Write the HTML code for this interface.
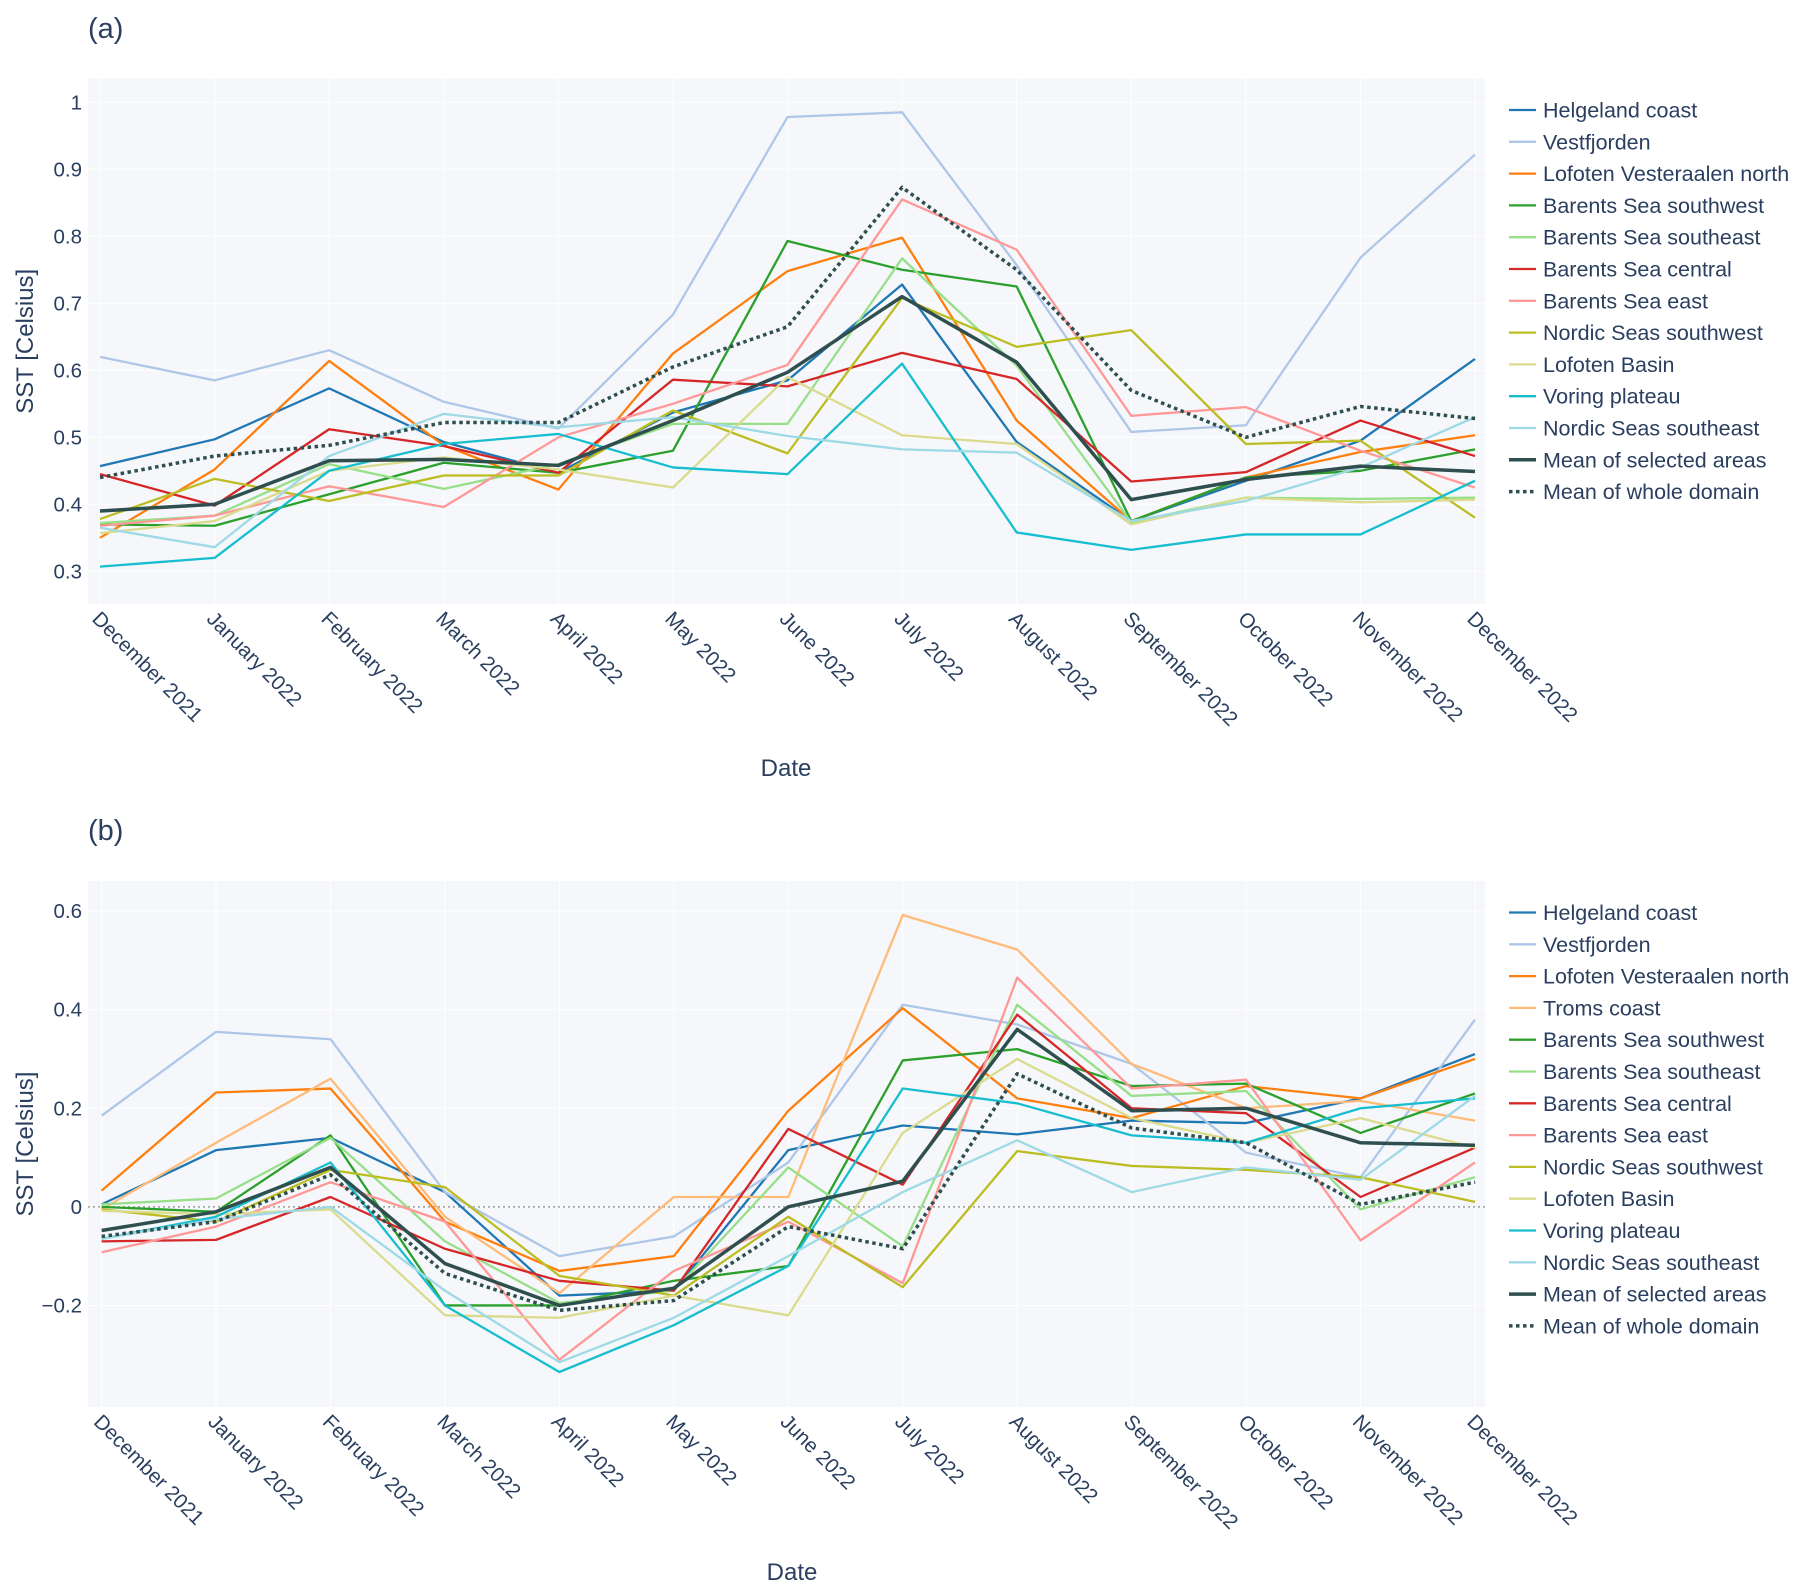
<!DOCTYPE html>
<html><head><meta charset="utf-8"><style>
body{margin:0;background:#fff;}
svg{display:block;font-family:"Liberation Sans",sans-serif;}
</style></head><body>
<svg id="c" width="1805" height="1591" viewBox="0 0 1805 1591" xmlns="http://www.w3.org/2000/svg"></svg>
<script>
const months=["December 2021","January 2022","February 2022","March 2022","April 2022","May 2022","June 2022","July 2022","August 2022","September 2022","October 2022","November 2022","December 2022"];
const namesA=["Helgeland coast","Vestfjorden","Lofoten Vesteraalen north","Barents Sea southwest","Barents Sea southeast","Barents Sea central","Barents Sea east","Nordic Seas southwest","Lofoten Basin","Voring plateau","Nordic Seas southeast","Mean of selected areas","Mean of whole domain"];
const namesB=["Helgeland coast","Vestfjorden","Lofoten Vesteraalen north","Troms coast","Barents Sea southwest","Barents Sea southeast","Barents Sea central","Barents Sea east","Nordic Seas southwest","Lofoten Basin","Voring plateau","Nordic Seas southeast","Mean of selected areas","Mean of whole domain"];
const a_helgeland=[0.457,0.497,0.573,0.493,0.447,0.537,0.585,0.728,0.493,0.375,0.435,0.495,0.617];
const a_vestfjorden=[0.62,0.585,0.63,0.553,0.513,0.683,0.978,0.985,0.757,0.508,0.518,0.768,0.922];
const a_lofotenVN=[0.35,0.452,0.614,0.488,0.422,0.625,0.748,0.798,0.525,0.375,0.44,0.478,0.503];
const a_barentsSW=[0.37,0.368,0.415,0.462,0.447,0.48,0.793,0.75,0.725,0.375,0.44,0.45,0.482];
const a_barentsSE=[0.372,0.383,0.46,0.423,0.46,0.52,0.52,0.767,0.607,0.373,0.41,0.408,0.41];
const a_barentsC=[0.445,0.398,0.512,0.487,0.447,0.586,0.576,0.626,0.587,0.434,0.448,0.525,0.472];
const a_barentsE=[0.368,0.383,0.427,0.396,0.5,0.55,0.608,0.855,0.78,0.532,0.545,0.48,0.425];
const a_nordicSW=[0.378,0.438,0.405,0.443,0.443,0.54,0.476,0.708,0.635,0.66,0.49,0.495,0.38];
const a_lofotenB=[0.357,0.375,0.45,0.47,0.452,0.425,0.59,0.503,0.49,0.37,0.41,0.403,0.407];
const a_voring=[0.307,0.32,0.45,0.49,0.505,0.455,0.445,0.61,0.358,0.332,0.355,0.355,0.435];
const a_nordicSE=[0.365,0.336,0.472,0.535,0.515,0.53,0.502,0.482,0.477,0.375,0.405,0.455,0.53];
const a_meanSel=[0.39,0.4,0.465,0.467,0.458,0.525,0.597,0.71,0.612,0.407,0.437,0.457,0.449];
const a_meanAll=[0.44,0.472,0.488,0.522,0.522,0.605,0.665,0.873,0.75,0.57,0.5,0.546,0.528];
const b_helgeland=[0.005,0.115,0.14,0.03,-0.18,-0.17,0.115,0.165,0.147,0.175,0.17,0.22,0.31];
const b_vestfjorden=[0.185,0.355,0.34,0.03,-0.1,-0.06,0.09,0.41,0.37,0.29,0.11,0.06,0.38];
const b_lofotenVN=[0.033,0.232,0.24,-0.03,-0.13,-0.1,0.195,0.403,0.22,0.18,0.245,0.22,0.3];
const b_troms=[-0.005,0.13,0.26,-0.02,-0.175,0.02,0.02,0.592,0.522,0.29,0.2,0.215,0.175];
const b_barentsSW=[0.0,-0.01,0.145,-0.2,-0.2,-0.15,-0.12,0.297,0.32,0.245,0.25,0.15,0.23];
const b_barentsSE=[0.005,0.017,0.14,-0.07,-0.195,-0.17,0.08,-0.08,0.41,0.225,0.235,-0.005,0.06];
const b_barentsC=[-0.07,-0.067,0.02,-0.085,-0.15,-0.17,0.158,0.045,0.39,0.2,0.19,0.02,0.12];
const b_barentsE=[-0.092,-0.04,0.05,-0.03,-0.31,-0.13,-0.03,-0.155,0.465,0.24,0.258,-0.068,0.09];
const b_nordicSW=[-0.005,-0.03,0.075,0.04,-0.14,-0.18,-0.02,-0.163,0.113,0.083,0.075,0.06,0.01];
const b_lofotenB=[-0.008,-0.015,-0.005,-0.22,-0.225,-0.18,-0.22,0.15,0.3,0.18,0.13,0.18,0.12];
const b_voring=[-0.065,-0.02,0.09,-0.2,-0.335,-0.24,-0.12,0.24,0.21,0.145,0.13,0.2,0.22];
const b_nordicSE=[-0.065,-0.025,0.0,-0.17,-0.315,-0.225,-0.1,0.03,0.135,0.03,0.08,0.055,0.225];
const b_meanSel=[-0.048,-0.01,0.08,-0.115,-0.2,-0.165,0.0,0.052,0.36,0.195,0.2,0.13,0.125];
const b_meanAll=[-0.06,-0.03,0.065,-0.135,-0.21,-0.19,-0.04,-0.085,0.27,0.16,0.13,0.005,0.05];
const ticksA=[0.3,0.4,0.5,0.6,0.7,0.8,0.9,1];
const tickLabelsA=["0.3","0.4","0.5","0.6","0.7","0.8","0.9","1"];
const ticksB=[-0.2,0,0.2,0.4,0.6];
const tickLabelsB=["−0.2","0","0.2","0.4","0.6"];

const colA=["#1f77b4","#aec7e8","#ff7f0e","#2ca02c","#98df8a","#d62728","#ff9896","#bcbd22","#dbdb8d","#17becf","#9edae5","#2f4f4f","#2f4f4f"];
const colB=["#1f77b4","#aec7e8","#ff7f0e","#ffbb78","#2ca02c","#98df8a","#d62728","#ff9896","#bcbd22","#dbdb8d","#17becf","#9edae5","#2f4f4f","#2f4f4f"];
const NS="http://www.w3.org/2000/svg";
const svg=document.getElementById('c');
function mk(tag,attrs,parent){const e=document.createElementNS(NS,tag);for(const k in attrs)e.setAttribute(k,attrs[k]);(parent||svg).appendChild(e);return e;}
const TXT="#2a3f5f";

function panel(cfg){
  const g=mk('g',{});
  
  
  const {L,R,T,B,x0,x1,ymin,ymax}=cfg;
  const X=i=>x0+(x1-x0)*i/(months.length-1);
  const Y=v=>B-(v-ymin)/(ymax-ymin)*(B-T);
  const bg=mk('rect',{x:L,y:T,width:R-L,height:B-T,fill:"#f5f7fa"},g);
  
  
  months.forEach((m,i)=>{mk('line',{x1:X(i),x2:X(i),y1:T,y2:B,stroke:"#fff","stroke-width":1},g);});
  cfg.ticks.forEach((t,i)=>{
    mk('line',{x1:L,x2:R,y1:Y(t),y2:Y(t),stroke:"#fff","stroke-width":1},g);
    const tx=mk('text',{x:L-6,y:Y(t)+7,"text-anchor":"end","font-size":20.5,fill:TXT},g);
    tx.textContent=cfg.tickLabels[i];
    
    
  });
  if(cfg.zero){const z=mk('line',{x1:L,x2:R,y1:Y(0),y2:Y(0),stroke:"#999","stroke-width":1.5,"stroke-dasharray":"2,3"},g);
    }
  cfg.series.forEach((s,k)=>{
    const mean=k>=cfg.series.length-2, dot=k==cfg.series.length-1;
    const p=mk('polyline',{points:s.map((v,i)=>X(i)+","+Y(v)).join(" "),fill:"none",stroke:cfg.cols[k],"stroke-width":mean?3.5:2.3,"stroke-linejoin":"round","stroke-dasharray":dot?"3.5,3.5":"none"},g);
    
    
  });
  months.forEach((m,i)=>{
    const t=mk('text',{x:0,y:0,"font-size":20.5,fill:TXT,transform:`translate(${X(i)-9},${B+16}) rotate(45)`},g);
    t.textContent=m;
    
    
  });
  const ti=mk('text',{x:88,y:cfg.titleY,"font-size":29,fill:TXT},g);
  ti.textContent=cfg.title;
  
  
  const xt=mk('text',{x:cfg.dateX,y:cfg.dateY,"font-size":24,fill:TXT,"text-anchor":"middle"},g);
  xt.textContent="Date";
  
  
  const yc=(T+B)/2;
  const yt=mk('text',{x:0,y:0,"font-size":24,fill:TXT,"text-anchor":"middle",transform:`translate(33,${yc}) rotate(-90)`},g);
  yt.textContent="SST [Celsius]";
  
  
  cfg.names.forEach((n,k)=>{
    const ly=cfg.legY+k*31.8;
    const lg=mk('g',{},g);
    
    
    const mean=k>=cfg.names.length-2, dot=k==cfg.names.length-1;
    mk('line',{x1:1509,x2:1536,y1:ly,y2:ly,stroke:cfg.cols[k],"stroke-width":mean?3.5:2.3,"stroke-dasharray":dot?"3.5,3.5":"none"},lg);
    const lt=mk('text',{x:1543,y:ly+7.5,"font-size":21.5,fill:TXT},lg);
    lt.textContent=n;
  });
}
panel({id:"panel-a",L:88,R:1485,T:78.5,B:604,x0:100,x1:1475,ymin:0.2512,ymax:1.0355,ticks:ticksA,tickLabels:tickLabelsA,
  series:[a_helgeland,a_vestfjorden,a_lofotenVN,a_barentsSW,a_barentsSE,a_barentsC,a_barentsE,a_nordicSW,a_lofotenB,a_voring,a_nordicSE,a_meanSel,a_meanAll],
  names:namesA,cols:colA,title:"(a)",titleY:38,dateX:786,dateY:776,legY:110});
panel({id:"panel-b",L:88,R:1485,T:881,B:1407,x0:101.6,x1:1475,ymin:-0.406,ymax:0.661,ticks:ticksB,tickLabels:tickLabelsB,zero:true,
  series:[b_helgeland,b_vestfjorden,b_lofotenVN,b_troms,b_barentsSW,b_barentsSE,b_barentsC,b_barentsE,b_nordicSW,b_lofotenB,b_voring,b_nordicSE,b_meanSel,b_meanAll],
  names:namesB,cols:colB,title:"(b)",titleY:840,dateX:792,dateY:1580,legY:912.5});
</script>
</body></html>
